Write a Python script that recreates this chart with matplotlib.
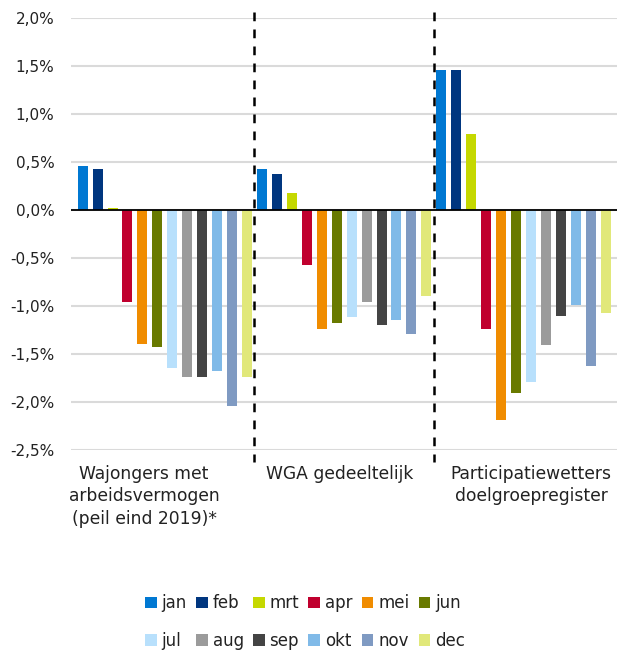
import matplotlib
matplotlib.use("Agg")
import matplotlib.pyplot as plt
from matplotlib.ticker import FuncFormatter, MultipleLocator
from matplotlib.patches import Patch

plt.rcParams['font.family'] = ['DejaVu Sans']

groups = ["Wajongers met\narbeidsvermogen\n(peil eind 2019)*",
          "WGA gedeeltelijk",
          "Participatiewetters\ndoelgroepregister"]
months = ["jan", "feb", "mrt", "apr", "mei", "jun",
          "jul", "aug", "sep", "okt", "nov", "dec"]
colors = ["#0078D2", "#00367F", "#C5D800", "#C0002E", "#F08C00", "#697A00",
          "#B8E0FC", "#9B9B9B", "#444444", "#80BAE8", "#7F9AC2", "#E1E87A"]

wajong = [0.46, 0.43, 0.02, -0.955, -1.40, -1.43, -1.65, -1.74, -1.74, -1.68, -2.04, -1.74]
wga = [0.43, 0.375, 0.18, -0.57, -1.24, -1.18, -1.12, -0.955, -1.20, -1.15, -1.29, -0.90]
pw = [1.455, 1.455, 0.79, -1.24, -2.19, -1.91, -1.79, -1.41, -1.10, -0.99, -1.625, -1.07]
values = [wajong, wga, pw]

fig = plt.figure(figsize=(6.24, 6.52), dpi=100)
ax = fig.add_axes([71/624, 1-450/652, 546/624, (450-17.7)/652])

n = len(months)
for g, vals in enumerate(values):
    for m, v in enumerate(vals):
        ax.bar(g*n + m, v, width=0.67, color=colors[m], zorder=3)

ax.set_xlim(-0.78, 3*n - 1 + 0.76)
ax.set_ylim(-2.5, 2.0)
ax.yaxis.set_major_locator(MultipleLocator(0.5))
ax.yaxis.set_major_formatter(FuncFormatter(lambda v, p: f"{v:.1f}".replace('.', ',') + '%'))
ax.grid(axis='y', color='#DADADA', linewidth=1.5, zorder=0)
ax.axhline(0, color='black', linewidth=1.3, zorder=4)
for s in ax.spines.values():
    s.set_visible(False)
ax.tick_params(axis='y', length=0, pad=12, labelsize=11, labelcolor='#222222')
ax.set_xticks([])

# group separators
for xb in [n - 0.5, 2*n - 0.5]:
    ax.plot([xb, xb], [2.06, -2.62], color='black', linewidth=1.8,
            linestyle=(0, (3.5, 3.3)), clip_on=False, zorder=5)

# group labels
label_x = [144, 340, 531]
for lx, txt in zip(label_x, groups):
    fig.text(lx/624, 1-465/652, txt, ha='center', va='top', fontsize=12.3,
             color='#222222', linespacing=1.32)

order = [0, 6, 1, 7, 2, 8, 3, 9, 4, 10, 5, 11]
handles = [Patch(facecolor=colors[i], label=months[i]) for i in order]
fig.legend(handles=handles, ncol=6, loc='center', bbox_to_anchor=(305/624, 1-622/652),
           frameon=False, fontsize=12, handlelength=0.7, handleheight=0.7,
           handletextpad=0.3, columnspacing=0.55, labelspacing=1.15,
           labelcolor='#222222')

fig.savefig("out.png", dpi=100)
